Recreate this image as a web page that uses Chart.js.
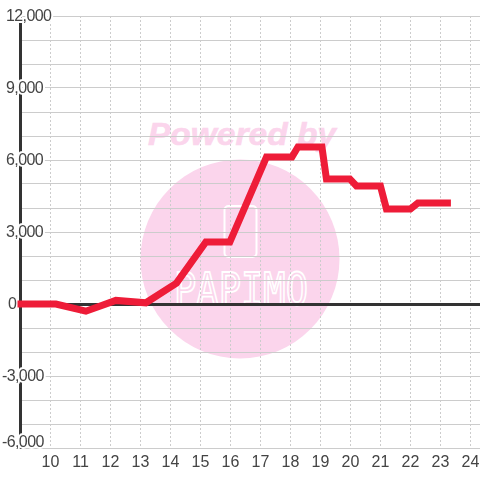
<!DOCTYPE html>
<html>
<head>
<meta charset="utf-8">
<script src="https://cdn.jsdelivr.net/npm/chart.js@4/dist/chart.umd.min.js"></script>
<style>
  html,body{margin:0;padding:0;background:#fff;}
  #wrap{position:relative;width:480px;height:480px;overflow:hidden;}
  #mark,#c{position:absolute;left:0;top:0;}
</style>
</head>
<body>
<div id="wrap">
  <!-- watermark sits behind the transparent canvas -->
  <svg id="mark" width="480" height="480">
    <text x="148" y="145" font-family="Liberation Sans" font-weight="bold" font-style="italic" font-size="32" fill="#fbd5ec" stroke="#fbd5ec" stroke-width="0.6" textLength="188" lengthAdjust="spacingAndGlyphs">Powered by</text>
    <circle cx="240" cy="259" r="99.5" fill="#fbd5ec"/>
    <rect x="224.5" y="206" width="32" height="51" rx="4" fill="none" stroke="#fff" stroke-width="2"/>
    <text x="174" y="305" font-family="DejaVu Sans Mono" font-size="44" fill="none" stroke="#fff" stroke-width="1.8" textLength="134" lengthAdjust="spacingAndGlyphs">PAPIMO</text>
  </svg>
  <canvas id="c" width="480" height="480"></canvas>
</div>
<script>
/* ---------- data ---------- */
const hours  = [8.9, 10.18, 11.18, 12.18, 13.18, 14.2, 15.18, 15.98, 17.2, 18.05, 18.25, 19.05, 19.2, 19.98, 20.2, 21, 21.2, 22, 22.25, 23.35];
const values = [0, 0, -300, 150, 50, 870, 2580, 2580, 6125, 6125, 6540, 6540, 5210, 5210, 4920, 4920, 3960, 3960, 4210, 4210];
const xRange = [9, 24.32];
const yRange = [-6000, 12000];

const TEXT = '#444';
const GRID = '#ccc';
const AXIS = '#333';
const FONT = '16px "Liberation Sans"';

/* y labels: left aligned with the minus hanging out, white halo over the axis */
const yLabels = {
  id: 'yLabels',
  beforeDatasetsDraw(chart) {
    const s = chart.scales.y, ctx = chart.ctx;
    ctx.save();
    ctx.font = FONT;
    ctx.letterSpacing = '-0.6px';
    ctx.textBaseline = 'middle';
    ctx.lineJoin = 'round';
    s.ticks.forEach(t => {
      if (t.value % 3000 !== 0) return;
      const txt = t.value.toLocaleString('en-US');
      let x = t.value < 0 ? 2 : 6;
      if (t.value === 0) x = 8;
      let y = s.getPixelForValue(t.value) + 1;
      if (t.value === yRange[0]) y -= 6;
      ctx.lineWidth = 4;
      ctx.strokeStyle = '#fff';
      ctx.strokeText(txt, x, y);
      ctx.fillStyle = TEXT;
      ctx.fillText(txt, x, y);
    });
    ctx.restore();
  }
};

new Chart(document.getElementById('c'), {
  type: 'scatter',
  data: {
    datasets: [{
      data: hours.map((h, i) => ({x: h, y: values[i]})),
      showLine: true,
      clip: false,
      borderColor: '#ee1c38',
      borderWidth: 7,
      borderJoinStyle: 'miter',
      borderCapStyle: 'butt',
      tension: 0,
      pointRadius: 0
    }]
  },
  options: {
    responsive: false,
    animation: false,
    devicePixelRatio: 1,
    layout: {padding: {top: 16}},
    plugins: {legend: {display: false}, tooltip: {enabled: false}},
    scales: {
      x: {
        type: 'linear',
        min: xRange[0], max: xRange[1],
        afterFit: s => { s.height = 32; s.paddingLeft = 0; s.paddingRight = 0; },
        border: {display: false, dash: [2, 2]},
        grid: {color: GRID, lineWidth: 1, drawTicks: false},
        ticks: {
          stepSize: 1, includeBounds: false, autoSkip: false, maxRotation: 0,
          color: TEXT, font: {family: 'Liberation Sans', size: 16}, padding: 5,
          callback: v => v === 9 ? '' : String(v)
        }
      },
      y: {
        min: yRange[0], max: yRange[1],
        afterFit: s => { s.width = 20.5; s.paddingTop = 0; s.paddingBottom = 0; },
        border: {display: true, color: AXIS, width: 3},
        grid: {
          drawTicks: false,
          color: c => c.tick.value === 0 ? AXIS : GRID,
          lineWidth: c => c.tick.value === 0 ? 3 : 1
        },
        ticks: {stepSize: 1000, display: false, autoSkip: false}
      }
    }
  },
  plugins: [yLabels]
});
</script>
</body>
</html>
